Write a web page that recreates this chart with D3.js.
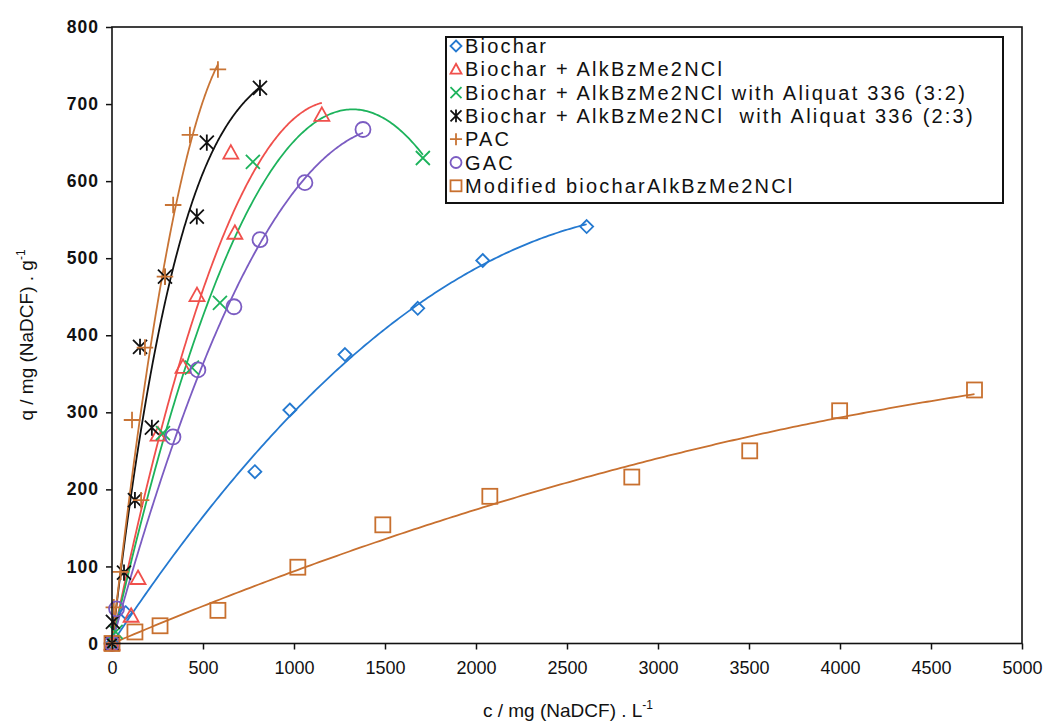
<!DOCTYPE html>
<html><head><meta charset="utf-8">
<script src="https://cdn.jsdelivr.net/npm/d3@7"></script>
<style>
html,body{margin:0;padding:0;background:#fff;}
svg text{font-family:Arial,"Liberation Sans",sans-serif;}
</style></head>
<body><svg id="chart" width="1051" height="722"></svg>
<script>
// ---- data ----
const seriesNames = [
  "Biochar",
  "Biochar + AlkBzMe2NCl",
  "Biochar + AlkBzMe2NCl with Aliquat 336 (3:2)",
  "Biochar + AlkBzMe2NCl  with Aliquat 336 (2:3)",
  "PAC",
  "GAC",
  "Modified biocharAlkBzMe2NCl"
];
const biocharC = [0, 75, 785, 977, 1280, 1680, 2037, 2608];
const biocharQ = [0, 40, 223, 303, 375, 435, 497, 541];
const alkC = [0, 105, 143, 253, 390, 467, 653, 675, 1153];
const alkQ = [0, 36, 85, 271, 359, 452, 637, 533, 686];
const ali32C = [0, 20, 280, 439, 593, 774, 1708];
const ali32Q = [0, 15, 273, 358, 442, 625, 630];
const ali23C = [0, 5, 66, 126, 154, 219, 291, 466, 521, 813];
const ali23Q = [0, 28, 92, 186, 385, 280, 476, 554, 650, 721];
const pacC = [0, 10, 48, 110, 160, 181, 291, 336, 428, 582];
const pacQ = [0, 47, 93, 290, 186, 384, 476, 569, 660, 745];
const gacC = [0, 25, 335, 472, 670, 813, 1060, 1379];
const gacQ = [0, 45, 268, 355, 437, 524, 598, 667];
const modC = [0, 126, 264, 582, 1021, 1488, 2076, 2856, 3504, 3998, 4739];
const modQ = [0, 15, 23, 43, 99, 154, 191, 216, 250, 302, 329];
const trendOrder = [2, 2, 2, 3, 2, 2, 2];
const xTicks = [0, 500, 1000, 1500, 2000, 2500, 3000, 3500, 4000, 4500, 5000];
const yTicks = [0, 100, 200, 300, 400, 500, 600, 700, 800];

// ---- styles ----
const colors = ["#2479d0", "#f0504c", "#1db35c", "#111111", "#c87435", "#7b5cc2", "#c8702f"];
const symbols = ["diamond", "triangle", "x", "asterisk", "plus", "circle", "square"];

const seriesC = [biocharC, alkC, ali32C, ali23C, pacC, gacC, modC];
const seriesQ = [biocharQ, alkQ, ali32Q, ali23Q, pacQ, gacQ, modQ];

const svg = d3.select("#chart");
const m = {l:112, r:1022, t:27, b:643.5};
const x = d3.scaleLinear().domain([0,5000]).range([m.l, m.r]);
const y = d3.scaleLinear().domain([0,800]).range([m.b, m.t]);

// least squares polynomial trendline through the origin (powers 1..order)
function polyfit0(xs, ys, order){
  const n = order;
  const A = Array.from({length:n},()=>new Array(n+1).fill(0));
  for(let k=0;k<xs.length;k++){
    const p=[]; for(let i=1;i<=n;i++) p.push(Math.pow(xs[k],i));
    for(let i=0;i<n;i++){ for(let j=0;j<n;j++) A[i][j]+=p[i]*p[j]; A[i][n]+=p[i]*ys[k]; }
  }
  for(let i=0;i<n;i++){
    let mx=i; for(let r=i+1;r<n;r++) if(Math.abs(A[r][i])>Math.abs(A[mx][i])) mx=r;
    [A[i],A[mx]]=[A[mx],A[i]];
    for(let r=0;r<n;r++){ if(r===i) continue; const f=A[r][i]/A[i][i]; for(let c=i;c<=n;c++) A[r][c]-=f*A[i][c]; }
  }
  return A.map((row,i)=>row[n]/row[i]);
}
function evalPoly(coef, c){ return coef.reduce((s,a,k)=>s+a*Math.pow(c,k+1),0); }

svg.append("defs").append("clipPath").attr("id","plotclip").append("rect")
  .attr("x",m.l).attr("y",m.t).attr("width",m.r-m.l).attr("height",m.b-m.t);

const g = svg.append("g");
// trendlines
const lg0 = g.append("g").attr("clip-path","url(#plotclip)");
seriesC.forEach((cs,si)=>{
  const coef = polyfit0(cs, seriesQ[si], trendOrder[si]);
  const xmax = d3.max(cs);
  const pts = d3.range(0, 201).map(i=>{ const c = xmax*i/200; return [c, evalPoly(coef,c)]; });
  lg0.append("path").datum(pts)
    .attr("d", d3.line().x(d=>x(d[0])).y(d=>y(d[1])))
    .attr("fill","none").attr("stroke",colors[si]).attr("stroke-width",1.8);
});

function drawSymbol(sel, type, cx, cy, color, s){
  const gg = sel.append("g").attr("transform",`translate(${cx},${cy})`)
    .attr("fill","none").attr("stroke",color).attr("stroke-width",1.8);
  if(type==="diamond") gg.append("path").attr("d",`M0,${-s}L${s},0L0,${s}L${-s},0Z`);
  else if(type==="triangle") gg.append("path").attr("d",`M0,${-s}L${s},${s*0.8}L${-s},${s*0.8}Z`);
  else if(type==="x") gg.append("path").attr("d",`M${-s},${-s}L${s},${s}M${-s},${s}L${s},${-s}`);
  else if(type==="asterisk") gg.append("path").attr("d",`M${-s},${-s}L${s},${s}M${-s},${s}L${s},${-s}M0,${-s*1.15}L0,${s*1.15}`);
  else if(type==="plus") gg.append("path").attr("d",`M${-s*1.1},0L${s*1.1},0M0,${-s*1.1}L0,${s*1.1}`);
  else if(type==="circle") gg.append("circle").attr("r",s);
  else if(type==="square") gg.append("rect").attr("x",-s).attr("y",-s).attr("width",2*s).attr("height",2*s);
}
const sizes = {diamond:6.5, triangle:7.5, x:7, asterisk:7, plus:7.5, circle:7.5, square:7.5};
seriesC.forEach((cs,si)=>{
  cs.forEach((c,i)=>drawSymbol(g, symbols[si], x(c), y(seriesQ[si][i]), colors[si], sizes[symbols[si]]));
});

// axes
const narrow = "'Liberation Sans Narrow','Arial Narrow',Arial,sans-serif";
const xAxis = d3.axisBottom(x).tickValues(xTicks).tickSize(6).tickSizeOuter(0).tickFormat(d3.format("d"));
const yAxis = d3.axisLeft(y).tickValues(yTicks).tickSize(6).tickSizeOuter(0).tickFormat(d3.format("d"));
const gx = svg.append("g").attr("transform",`translate(0,${m.b})`).call(xAxis);
gx.select(".domain").remove();
gx.selectAll("line").attr("stroke","#111").attr("stroke-width",1.5);
gx.selectAll("text").attr("font-size",18).attr("fill","#111").attr("dy","1.2em").style("font-family",narrow);
const gy = svg.append("g").attr("transform",`translate(${m.l},0)`).call(yAxis);
gy.select(".domain").remove();
gy.selectAll("line").attr("stroke","#111").attr("stroke-width",1.5);
gy.selectAll("text").attr("font-size",17.5).attr("font-weight","bold").attr("fill","#111")
  .attr("x",-13).style("letter-spacing","1px");

svg.append("rect").attr("x",m.l).attr("y",m.t).attr("width",m.r-m.l).attr("height",m.b-m.t)
  .attr("fill","none").attr("stroke","#111").attr("stroke-width",1.6);

// axis titles
const xt = svg.append("text").attr("x",568).attr("y",717).attr("text-anchor","middle")
  .attr("font-size",19).attr("fill","#111").style("font-family",narrow);
xt.append("tspan").text("c / mg (NaDCF) . L");
xt.append("tspan").text("-1").attr("font-size",12).attr("dy",-8);
const yt = svg.append("text").attr("transform","translate(33,335) rotate(-90)").attr("text-anchor","middle")
  .attr("font-size",19).attr("fill","#111").style("font-family",narrow);
yt.append("tspan").text("q / mg (NaDCF) . g");
yt.append("tspan").text("-1").attr("font-size",12).attr("dy",-8);

// legend
const lg = svg.append("g");
lg.append("rect").attr("x",446).attr("y",37).attr("width",557).attr("height",166)
  .attr("fill","#fff").attr("stroke","#111").attr("stroke-width",2);
seriesNames.forEach((nm,i)=>{
  const cy = 46 + i*23.3;
  drawSymbol(lg, symbols[i], 456, cy, colors[i], 5.5);
  lg.append("text").attr("x",465).attr("y",cy+7).attr("font-size",20).attr("fill","#111")
    .style("letter-spacing","2.2px").style("white-space","pre").text(nm);
});
</script></body></html>
